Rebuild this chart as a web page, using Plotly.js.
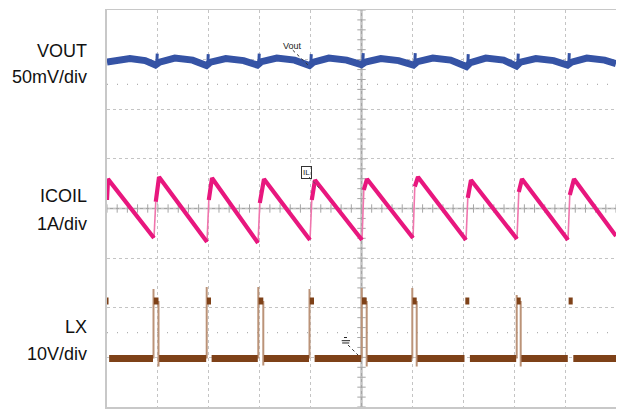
<!DOCTYPE html>
<html>
<head>
<meta charset="utf-8">
<script src="https://cdn.plot.ly/plotly-3.0.1.min.js"></script>
<style>html,body{margin:0;padding:0;background:#fff;}#chart{width:618px;height:409px;}</style>
</head>
<body>
<div id="chart"></div>
<script>
// ---- Data (in screen divisions: x 0..10, y -4..4) ----
// VOUT (50mV/div)
const voutSwitchT = [0.982, 1.984, 2.986, 4.008, 5.029, 6.051, 7.092, 8.075, 9.077];
const voutPre     = [2.89, 2.88, 2.89, 2.88, 2.90, 2.89, 2.86, 2.87, 2.89];
const voutSpike   = [3.12, 3.11, 3.12, 3.11, 3.13, 3.13, 3.11, 3.12, 3.13];
const voutPost    = [2.95, 2.95, 2.96, 2.95, 2.95, 2.96, 2.94, 2.95, 2.95];
const voutMid     = [3.03, 3.02, 3.03, 3.03, 3.02, 3.03, 3.03, 3.02, 3.03];
const voutLate    = [2.99, 2.98, 2.99, 2.99, 2.98, 2.99, 2.99, 2.98, 2.99];
const voutStart = 2.95, voutStartMid = 3.02, voutStartLate = 2.98, voutEnd = 2.92;

// ICOIL (1A/div)
const iMinT  = [0.000, 0.923, 1.965, 2.967, 3.988, 5.010, 6.012, 7.053, 8.055, 9.057];
const iMin   = [0.171, -0.594, -0.675, -0.695, -0.635, -0.635, -0.594, -0.635, -0.615, -0.635];
const iKneeT = [0.000, 0.958, 2.000, 3.002, 4.023, 5.045, 6.047, 7.088, 8.090, 9.092];
const iKnee  = [0.171, 0.137, 0.171, 0.111, 0.171, 0.373, 0.439, 0.212, 0.332, 0.272];
const iPeakT = [0.020, 1.022, 2.063, 3.084, 4.086, 5.108, 6.110, 7.151, 8.153, 9.175];
const iPeak  = [0.594, 0.635, 0.615, 0.594, 0.574, 0.594, 0.635, 0.574, 0.594, 0.594];
const iEndT = 10.0, iEnd = -0.554;

// LX (10V/div)
const lxLow  = -3.023;
const lxHigh = -1.864;
const lxRiseT = [null, 0.9136, 1.9587, 2.9725, 3.9784, 5.0039, 5.9980, 7.0334, 8.0491, 9.0629];
const lxFallT = [0.030, 1.0118, 2.0432, 3.0707, 4.0668, 5.1022, 6.0845, 7.1179, 8.1277, 9.1493];
const lxTop   = [null, -1.622, -1.582, -1.582, -1.622, -1.602, -1.602, null, -1.743, null];
const lxUnder = [null, -3.184, null, -3.164, null, -3.184, -3.184, null, -3.184, null];

// ---- Build traces ----
// VOUT band (arches) and switching spikes
const vx = [0, 0.45, 0.75], vy = [voutStart, voutStartMid, voutStartLate];
const sx = [], sy = [];
voutSwitchT.forEach((t, k) => {
  vx.push(t - 0.03, t + 0.05, t + 0.35, t + 0.70);
  vy.push(voutPre[k], voutPost[k], voutMid[k], voutLate[k]);
  sx.push(t - 0.005, t + 0.005, null);
  sy.push(voutPre[k], voutSpike[k], null);
});
vx.push(10); vy.push(voutEnd);

// ICOIL
const ix = [], iy = [], irx = [], iry = [];
for (let k = 0; k < iMinT.length; k++) {
  ix.push(iKneeT[k], iPeakT[k]);
  iy.push(iKnee[k], iPeak[k]);
  if (k + 1 < iMinT.length) { ix.push(iMinT[k + 1], null); iy.push(iMin[k + 1], null); }
  else { ix.push(iEndT); iy.push(iEnd); }
  if (k > 0) { irx.push(iMinT[k], iKneeT[k], null); iry.push(iMin[k], iKnee[k], null); }
}

// LX
const lx = [], ly = [], lex = [], ley = [];
for (let k = 0; k < lxFallT.length; k++) {
  const r = lxRiseT[k] === null ? 0 : lxRiseT[k] + 0.006;
  lx.push(r, lxFallT[k], null); ly.push(lxHigh, lxHigh, null);
  const nextR = (k + 1 < lxRiseT.length) ? lxRiseT[k + 1] - 0.01 : 10;
  lx.push(lxFallT[k] + 0.012, nextR, null); ly.push(lxLow, lxLow, null);
  if (lxTop[k] !== null) { lex.push(lxRiseT[k], lxRiseT[k], null); ley.push(lxLow, lxTop[k], null); }
  if (lxUnder[k] !== null) { lex.push(lxFallT[k], lxFallT[k], null); ley.push(lxHigh, lxUnder[k], null); }
}

// Center-line tick marks (graticule)
const tkx = [], tky = [], tvx = [], tvy = [];
for (let i = 0; i <= 50; i++) { tkx.push(i * 0.2); tky.push(0); }
for (let i = 0; i <= 40; i++) { tvx.push(5); tvy.push(-4 + i * 0.2); }

const gray = '#a6a6a6';
const traces = [
  {x: tkx, y: tky, mode: 'markers', type: 'scatter', hoverinfo: 'skip',
   marker: {symbol: 'line-ns-open', size: 6, color: gray, line: {color: gray, width: 1}}},
  {x: tvx, y: tvy, mode: 'markers', type: 'scatter', hoverinfo: 'skip',
   marker: {symbol: 'line-ew-open', size: 6, color: gray, line: {color: gray, width: 1}}},
  {x: lex, y: ley, mode: 'lines', type: 'scatter', line: {color: '#bb9378', width: 2}, connectgaps: false},
  {x: lx, y: ly, mode: 'lines', type: 'scatter', line: {color: '#7e4118', width: 7}, connectgaps: false},
  {x: irx, y: iry, mode: 'lines', type: 'scatter', line: {color: '#f075ad', width: 1.6}, connectgaps: false},
  {x: ix, y: iy, mode: 'lines', type: 'scatter', line: {color: '#e8177e', width: 4.2}, connectgaps: false},
  {x: vx, y: vy, mode: 'lines', type: 'scatter', line: {color: '#3553a5', width: 7}},
  {x: sx, y: sy, mode: 'lines', type: 'scatter', line: {color: '#3553a5', width: 3}, connectgaps: false},
];

const labFont = {family: 'Arial, "Liberation Sans", sans-serif', size: 18, color: '#111'};
const lab = (text, y) => ({text, xref: 'paper', yref: 'y', x: -0.0354, y, xanchor: 'right',
  yanchor: 'middle', showarrow: false, font: labFont});

const layout = {
  width: 618, height: 409,
  margin: {l: 107, r: 2, t: 10, b: 2, pad: 0},
  paper_bgcolor: '#fff', plot_bgcolor: '#fff',
  showlegend: false,
  xaxis: {range: [0, 10], dtick: 1, tick0: 0, showgrid: true, gridcolor: '#c4c4c4', griddash: 'dot',
          gridwidth: 1, showticklabels: false, ticks: '', zeroline: false,
          showline: true, linecolor: '#c8c8c8', linewidth: 1.5, mirror: true, fixedrange: true},
  yaxis: {range: [-4, 4], dtick: 1, tick0: 0, showgrid: true, gridcolor: '#c4c4c4', griddash: 'dot',
          gridwidth: 1, showticklabels: false, ticks: '', zeroline: false,
          showline: true, linecolor: '#c8c8c8', linewidth: 2, mirror: false, fixedrange: true},
  shapes: [
    {type: 'line', xref: 'x', yref: 'y', x0: 5, x1: 5, y0: -4, y1: 4, layer: 'below', line: {color: gray, width: 2}},
    {type: 'line', xref: 'x', yref: 'y', x0: 0, x1: 10, y0: 0, y1: 0, layer: 'below', line: {color: gray, width: 1.5}},
    {type: 'line', xref: 'x', yref: 'y', x0: 0, x1: 10, y0: 2.5, y1: 2.5, layer: 'below', line: {color: '#b0b0b0', width: 1.2, dash: '1px,9px'}},
    {type: 'line', xref: 'x', yref: 'y', x0: 0, x1: 10, y0: -2.5, y1: -2.5, layer: 'below', line: {color: '#b0b0b0', width: 1.2, dash: '1px,9px'}},
    // Vout marker leader
    {type: 'line', xref: 'x', yref: 'y', x0: 3.65, y0: 3.19, x1: 3.95, y1: 2.89, line: {color: '#333', width: 1, dash: 'dot'}},
    // ICOIL marker leader
    {type: 'line', xref: 'x', yref: 'y', x0: 3.97, y0: 0.635, x1: 4.185, y1: 0.393, line: {color: '#555', width: 1, dash: 'dot'}},
    // ground symbol + leader
    {type: 'line', xref: 'x', yref: 'y', x0: 4.656, x1: 4.715, y0: -2.600, y1: -2.600, line: {color: '#222', width: 1, dash: 'dot'}},
    {type: 'line', xref: 'x', yref: 'y', x0: 4.611, x1: 4.774, y0: -2.664, y1: -2.664, line: {color: '#222', width: 1}},
    {type: 'line', xref: 'x', yref: 'y', x0: 4.620, x1: 4.760, y0: -2.710, y1: -2.710, line: {color: '#222', width: 1}},
    {type: 'line', xref: 'x', yref: 'y', x0: 4.735, y0: -2.750, x1: 4.931, y1: -2.952, line: {color: '#333', width: 1, dash: 'dot'}},
  ],
  annotations: [
    lab('VOUT', 3.18), lab('50mV/div', 2.65),
    lab('ICOIL', 0.245), lab('1A/div', -0.306),
    lab('LX', -2.388), lab('10V/div', -2.94),
    {text: 'Vout', xref: 'x', yref: 'y', x: 3.635, y: 3.265, showarrow: false,
     font: {family: 'Arial, "Liberation Sans", sans-serif', size: 9, color: '#222'}},
    {text: 'IL', xref: 'x', yref: 'y', x: 3.91, y: 0.725, showarrow: false, borderpad: 1,
     bordercolor: '#333', borderwidth: 1, font: {family: 'Arial, "Liberation Sans", sans-serif', size: 8, color: '#222'}},
  ],
};

Plotly.newPlot('chart', traces, layout, {staticPlot: true, displayModeBar: false});
</script>
</body>
</html>
